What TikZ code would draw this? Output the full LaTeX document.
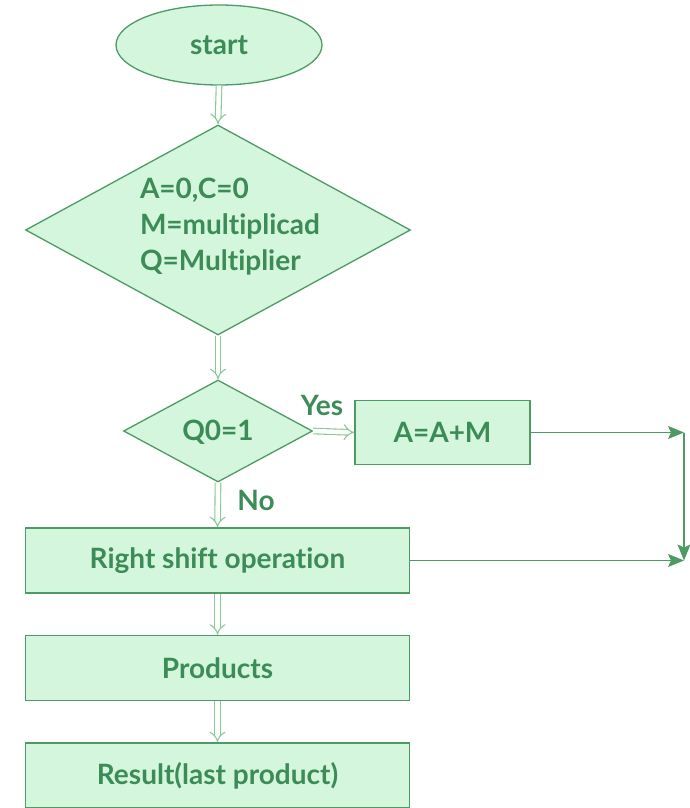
\documentclass[tikz,border=0pt]{standalone}
\usepackage{fontspec}
\setmainfont{Lato}[Ligatures=NoCommon]
\usetikzlibrary{shapes.geometric,arrows.meta}
\definecolor{fillg}{HTML}{D4F6DD}
\definecolor{lineg}{HTML}{4E9A64}
\definecolor{textg}{HTML}{3B8C56}
\definecolor{arrowg}{HTML}{88C998}
\tikzset{
  every node/.style={font=\fontsize{28}{33}\selectfont\bfseries, text=textg},
  shapebox/.style={draw=lineg, fill=fillg, line width=1.3pt},
  procbox/.style={shapebox, rectangle, minimum width=384pt, minimum height=65pt, inner sep=0pt},
  decide/.style={shapebox, diamond, inner sep=0pt},
  hollow/.style={draw=arrowg, line width=1.1pt, double=white, double distance=4.5pt, -{Implies[length=7pt]}},
  solidarrow/.style={draw=lineg, line width=1.3pt, -{Stealth[length=16pt,width=13pt,inset=3pt]}}
}
\begin{document}
\begin{tikzpicture}[x=1pt,y=-1pt]
\useasboundingbox (0,0) rectangle (690,808);
\node[shapebox, ellipse, minimum width=206pt, minimum height=80pt, inner sep=0pt] (start) at (219,45) {start};
\node[decide, minimum width=385pt, minimum height=210pt] (init) at (218,230) {};
\node[align=left, font=\fontsize{28}{36}\selectfont\bfseries] (inittxt) at (230,227) {A=0,C=0\\M=multiplicad\\Q=Multiplier};
\node[decide, minimum width=189pt, minimum height=102pt] (q0) at (218,431) {};
\node (q0txt) at (218,432) {Q0=1};
\node[shapebox, rectangle, minimum width=175pt, minimum height=64pt, inner sep=0pt] (add) at (442.5,432.5) {A=A+M};
\node[procbox] (rs) at (217.5,560.5) {Right shift operation};
\node[procbox] (prod) at (217.5,668) {Products};
\node[procbox] (res) at (217.5,775.5) {Result(last product)};
\node (yes) at (322,405) {Yes};
\node (no) at (256,500) {No};
\coordinate (c1) at (684,432.5);
\coordinate (c2) at (684,560.5);
\draw[hollow] (start.south) -- (init.north);
\draw[hollow] (init.south) -- (q0.north);
\draw[hollow] (q0.east) -- (add.west);
\draw[hollow] (q0.south) -- (rs.north);
\draw[hollow] (rs.south) -- (prod.north);
\draw[hollow] (prod.south) -- (res.north);
\draw[solidarrow] (add.east) -- (c1);
\draw[solidarrow] (c1) -- (c2);
\draw[solidarrow] (rs.east) -- (c2);
\end{tikzpicture}
\end{document}
